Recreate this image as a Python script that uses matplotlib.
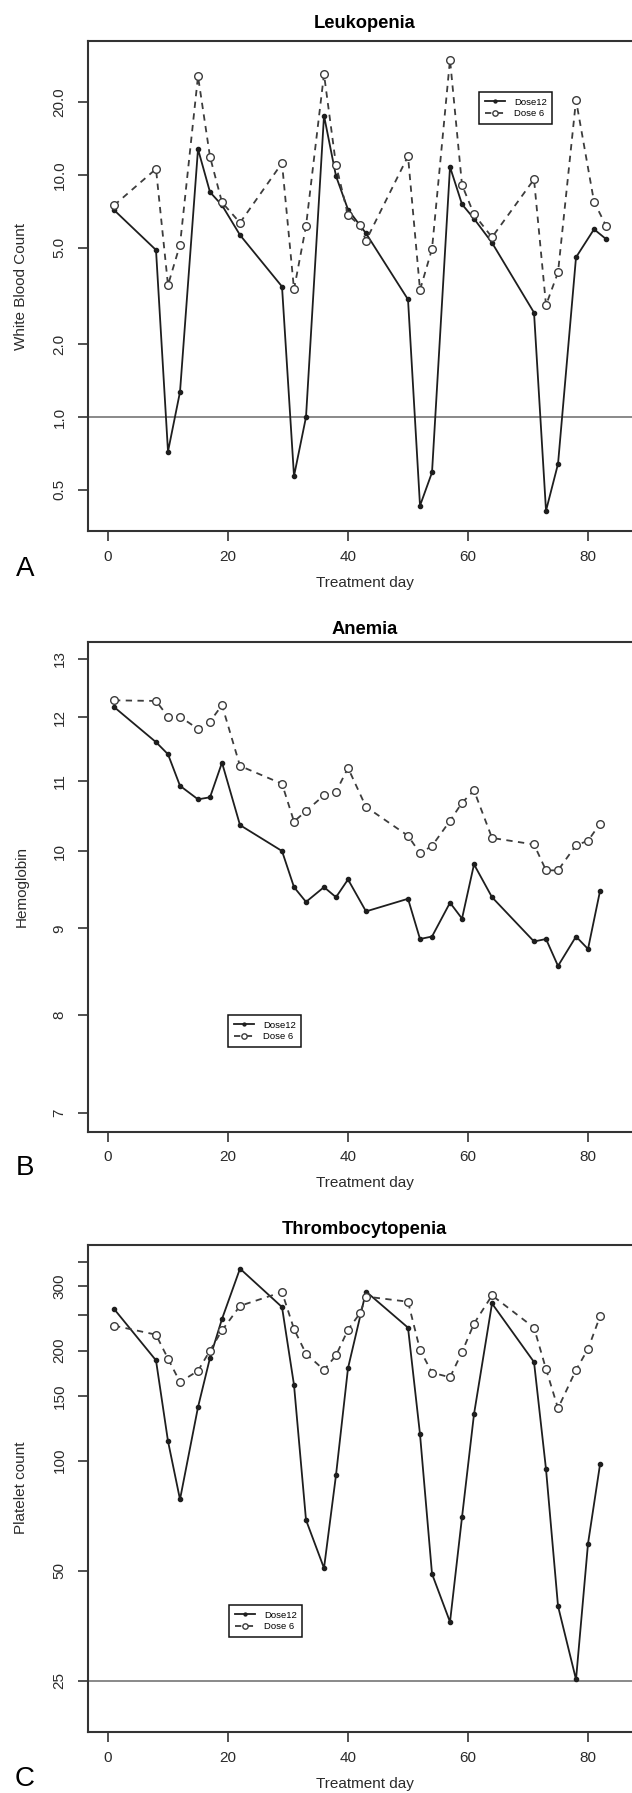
import matplotlib
matplotlib.use('Agg')
import matplotlib.pyplot as plt
from matplotlib.ticker import FixedLocator, FixedFormatter, NullLocator

plt.rcParams['font.family'] = ['Liberation Sans', 'DejaVu Sans']

# ---- data ----
# A: white blood count
wbc_days_12 = [1, 8, 10, 12, 15, 17, 19, 22, 29, 31, 33, 36, 38, 40, 43, 50, 52, 54,
               57, 59, 61, 64, 71, 73, 75, 78, 81, 83]
wbc_dose12 = [7.17, 4.9, 0.72, 1.27, 12.8, 8.5, 7.5, 5.65, 3.46, 0.57, 1.0, 17.6, 9.9, 7.2,
              5.74, 3.06, 0.43, 0.59, 10.8, 7.57, 6.6, 5.25, 2.7, 0.41, 0.64, 4.57, 5.97, 5.44]
wbc_days_6 = [1, 8, 10, 12, 15, 17, 19, 22, 29, 31, 33, 36, 38, 40, 42, 43, 50, 52, 54,
              57, 59, 61, 64, 71, 73, 75, 78, 81, 83]
wbc_dose6 = [7.49, 10.6, 3.51, 5.15, 25.6, 11.9, 7.71, 6.35, 11.2, 3.37, 6.15, 26.1, 11.0,
             6.83, 6.2, 5.36, 11.97, 3.35, 4.95, 30.0, 9.1, 6.88, 5.53, 9.6, 2.9, 3.96, 20.4,
             7.76, 6.17]

# B: hemoglobin
hgb_days = [1, 8, 10, 12, 15, 17, 19, 22, 29, 31, 33, 36, 38, 40, 43, 50, 52, 54,
            57, 59, 61, 64, 71, 73, 75, 78, 80, 82]
hgb_dose12 = [12.17, 11.6, 11.41, 10.93, 10.73, 10.76, 11.28, 10.36, 10.0, 9.52, 9.33, 9.52,
              9.39, 9.62, 9.21, 9.37, 8.87, 8.9, 9.32, 9.12, 9.82, 9.39, 8.84, 8.87, 8.55,
              8.9, 8.75, 9.47]
hgb_dose6 = [12.28, 12.27, 12.01, 12.01, 11.81, 11.93, 12.2, 11.23, 10.96, 10.41, 10.56, 10.79,
             10.84, 11.2, 10.62, 10.21, 9.97, 10.07, 10.42, 10.68, 10.86, 10.18, 10.09, 9.74,
             9.74, 10.08, 10.14, 10.38]

# C: platelets
plt_days_12 = [1, 8, 10, 12, 15, 17, 19, 22, 29, 31, 33, 36, 38, 40, 43, 50, 52, 54,
               57, 59, 61, 64, 71, 73, 75, 78, 80, 82]
plt_dose12 = [260, 188, 113, 78.3, 140, 191, 244, 335, 263, 161, 68.8, 50.8, 91.3, 179, 290,
              231, 118, 49, 36.2, 70, 134, 269, 186, 94.7, 40, 25.2, 59.3, 97.6]
plt_days_6 = [1, 8, 10, 12, 15, 17, 19, 22, 29, 31, 33, 36, 38, 40, 42, 43, 50, 52, 54,
              57, 59, 61, 64, 71, 73, 75, 78, 80, 82]
plt_dose6 = [234, 221, 190, 164, 176, 200, 227, 265, 289, 229, 196, 177, 194, 228, 253, 281,
             272, 201, 174, 169, 198, 237, 283, 231, 178, 139, 177, 202, 248]

W, H = 632, 1793
fig = plt.figure(figsize=(W / 100, H / 100), dpi=100)


def fx(x):
    return x / W


def fy(y):
    return 1 - y / H


def panel(top, bottom, ylim, yticks, ylabels, title, ylab, letter, title_y, letter_y):
    ax = fig.add_axes([fx(88), fy(bottom), fx(641) - fx(88), (bottom - top) / H])
    ax.set_yscale('log')
    ax.set_xlim(-3.333, 88.83)
    ax.set_ylim(*ylim)
    ax.set_xticks([0, 20, 40, 60, 80])
    ax.yaxis.set_major_locator(FixedLocator(yticks))
    ax.yaxis.set_major_formatter(FixedFormatter(ylabels))
    ax.yaxis.set_minor_locator(NullLocator())
    ax.tick_params(direction='out', length=7.5, width=1.2, color='#333333',
                   labelsize=11, labelcolor='#2a2a2a')
    ax.tick_params(axis='x', pad=6)
    ax.tick_params(axis='y', pad=8, labelrotation=90)
    for lab in ax.get_yticklabels():
        lab.set_va('center')
    for s in ax.spines.values():
        s.set_linewidth(1.5)
        s.set_color('#333333')
    fig.text(fx(364.5), fy(title_y), title, ha='center', va='center',
             fontsize=13.2, fontweight='bold')
    fig.text(fx(364.5), fy(bottom + 52), 'Treatment day', ha='center', va='center',
             fontsize=11, color='#2a2a2a')
    fig.text(fx(21.5), fy((top + bottom) / 2), ylab, ha='center', va='center',
             rotation=90, fontsize=11, color='#2a2a2a')
    fig.text(fx(25), fy(letter_y), letter, ha='center', va='center', fontsize=20)
    return ax


def draw(ax, d12, v12, d6, v6, leg_xy):
    ax.plot(d12, v12, color='#1e1e1e', lw=1.3, marker='o', ms=3,
            mfc='#1e1e1e', mec='#1e1e1e', label='Dose12')
    ax.plot(d6, v6, color='#3c3c3c', lw=1.3, ls=(0, (3.5, 3)), marker='o', ms=5.5,
            mfc='white', mec='#3c3c3c', mew=1, label='Dose 6')
    leg = ax.legend(loc='upper left', bbox_to_anchor=(fx(leg_xy[0]), fy(leg_xy[1])),
                    bbox_transform=fig.transFigure, fontsize=6.8, fancybox=False,
                    framealpha=1, edgecolor='#111111', borderaxespad=0,
                    handlelength=2.2, handletextpad=0.9, labelspacing=0.25,
                    borderpad=0.6, markerscale=0.7)
    leg.get_frame().set_linewidth(1.1)


# A
axA = panel(41, 531, (0.338, 35.8), [0.5, 1, 2, 5, 10, 20],
            ['0.5', '1.0', '2.0', '5.0', '10.0', '20.0'],
            'Leukopenia', 'White Blood Count', 'A', 23, 569)
axA.axhline(1.0, color='#808080', lw=1.3)
draw(axA, wbc_days_12, wbc_dose12, wbc_days_6, wbc_dose6, (479, 92))

# B
axB = panel(641.8, 1131.5, (6.823, 13.30), [7, 8, 9, 10, 11, 12, 13],
            ['7', '8', '9', '10', '11', '12', '13'],
            'Anemia', 'Hemoglobin', 'B', 629, 1168)
draw(axB, hgb_days, hgb_dose12, hgb_days, hgb_dose6, (228, 1015))

# C
axC = panel(1244.5, 1732, (18.1, 390), [25, 50, 100, 150, 200, 250, 300, 350],
            ['25', '50', '100', '150', '200', '', '300', ''],
            'Thrombocytopenia', 'Platelet count', 'C', 1229, 1779)
axC.axhline(25, color='#808080', lw=1.3)
draw(axC, plt_days_12, plt_dose12, plt_days_6, plt_dose6, (229, 1605))

plt.savefig('out.png', dpi=100)
